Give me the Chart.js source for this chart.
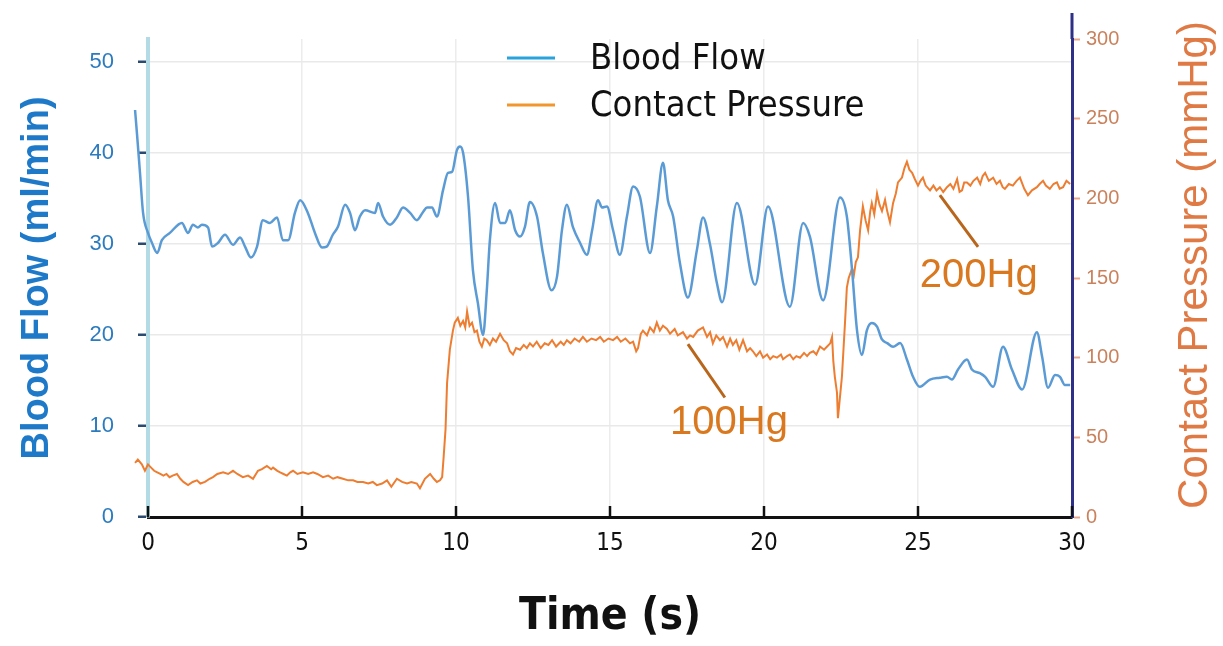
<!DOCTYPE html>
<html>
<head>
<meta charset="utf-8">
<script src="https://cdn.jsdelivr.net/npm/chart.js@4.4.1/dist/chart.umd.min.js"></script>
<style>
  html, body { margin: 0; padding: 0; background: #fff; }
</style>
</head>
<body>
<canvas id="chart" width="1223" height="646"></canvas>
<script>
// ── Data ─────────────────────────────────────────────────────────────────────
const flowTime = [-0.42,-0.36,-0.26,-0.16,0,0.13,0.3,0.45,0.71,1.1,1.3,1.46,1.62,1.75,1.95,2.08,2.27,2.5,2.76,2.99,
  3.15,3.34,3.54,3.73,3.96,4.19,4.38,4.55,4.77,4.94,5.19,5.42,5.65,5.8,6.0,6.17,6.4,6.56,6.72,6.88,
  7.05,7.37,7.47,7.63,7.86,8.08,8.28,8.51,8.73,8.93,9.06,9.22,9.38,9.58,9.74,9.87,10.03,10.13,10.23,10.39,
  10.55,10.71,10.88,11.0,11.1,11.27,11.43,11.6,11.75,11.92,12.08,12.24,12.4,12.63,12.82,13.1,13.28,13.44,13.6,13.8,
  14.03,14.25,14.42,14.61,14.74,14.9,15.1,15.32,15.55,15.75,15.97,16.3,16.52,16.72,16.88,17.05,17.27,17.53,17.82,18.02,
  18.25,18.47,18.64,19.12,19.71,20.13,20.84,21.27,21.49,21.92,22.47,22.69,22.86,23.02,23.18,23.34,23.5,23.67,23.83,24.0,
  24.19,24.42,24.64,24.84,25.06,25.39,25.71,25.94,26.1,26.3,26.59,26.75,27.01,27.18,27.44,27.76,28.05,28.38,28.86,29.03,
  29.22,29.45,29.61,29.77,29.94];
const flowValues = [44.7,42.2,37.8,33.4,31.2,30.1,29.0,30.4,31.2,32.3,31.2,32.1,31.8,32.1,31.8,29.7,30.1,31.0,29.9,30.7,
  29.7,28.5,29.7,32.6,32.3,32.9,30.4,30.4,33.4,34.8,33.4,31.2,29.6,29.7,31.0,31.9,34.3,33.4,31.5,33.0,
  33.7,33.4,34.5,33.0,32.1,32.9,34.0,33.4,32.6,33.5,34.0,34.0,33.0,35.9,37.8,37.9,40.3,40.7,40.0,35.2,
  27.1,23.5,20.0,24.9,30.4,34.5,32.3,32.3,33.7,31.5,30.8,31.9,34.6,33.0,29.0,24.9,26.4,31.5,34.3,31.8,
  30.1,28.8,31.5,34.8,34.0,34.1,31.5,28.8,33.0,36.3,35.2,29.0,34.1,38.9,34.8,33.0,27.9,24.1,29.3,32.9,
  29.9,25.7,23.6,34.5,25.5,34.1,23.1,32.3,30.8,23.8,35.1,33.0,27.1,20.5,17.8,20.5,21.3,20.9,19.5,19.1,
  18.7,19.1,17.3,15.4,14.3,15.1,15.3,15.4,15.1,16.2,17.3,16.2,15.8,15.4,14.3,18.7,16.2,14.0,20.3,17.6,
  14.2,15.6,15.4,14.5,14.5];

const pressTime = [-0.42,-0.33,-0.2,-0.1,0,0.1,0.2,0.3,0.4,0.5,0.6,0.7,0.8,0.94,1.05,1.15,1.3,1.45,1.59,1.7,
  1.85,2.0,2.11,2.25,2.44,2.6,2.76,2.9,3.08,3.25,3.41,3.57,3.7,3.86,4.0,4.06,4.2,4.29,4.4,4.51,
  4.62,4.71,4.85,5.03,5.2,5.36,5.5,5.68,5.85,6.01,6.15,6.33,6.5,6.66,6.8,6.98,7.15,7.3,7.43,7.6,
  7.76,7.9,8.08,8.25,8.41,8.55,8.73,8.83,8.99,9.16,9.28,9.38,9.48,9.55,9.6,9.66,9.71,9.8,9.9,9.96,
  10.06,10.14,10.23,10.3,10.36,10.44,10.52,10.6,10.68,10.76,10.84,10.92,11.0,11.1,11.2,11.3,11.43,11.55,11.66,11.75,
  11.85,11.95,12.08,12.2,12.3,12.4,12.5,12.62,12.75,12.88,13.0,13.12,13.25,13.4,13.5,13.6,13.72,13.85,14.0,14.12,
  14.25,14.4,14.55,14.68,14.8,14.95,15.1,15.23,15.35,15.5,15.65,15.75,15.85,15.91,16.0,16.07,16.2,16.3,16.42,16.52,
  16.62,16.72,16.85,16.95,17.1,17.2,17.37,17.5,17.6,17.7,17.85,18.02,18.15,18.25,18.34,18.45,18.57,18.67,18.8,18.9,
  18.99,19.1,19.2,19.32,19.45,19.55,19.64,19.75,19.87,19.97,20.1,20.2,20.3,20.42,20.55,20.62,20.75,20.84,20.95,21.05,
  21.17,21.3,21.4,21.49,21.6,21.7,21.82,21.95,22.05,22.15,22.21,22.25,22.3,22.37,22.4,22.45,22.53,22.58,22.63,22.69,
  22.75,22.86,22.92,22.98,23.05,23.12,23.21,23.3,23.38,23.45,23.5,23.58,23.67,23.75,23.83,23.93,24.0,24.09,24.19,24.28,
  24.35,24.48,24.56,24.64,24.72,24.81,24.9,25.0,25.08,25.16,25.25,25.39,25.5,25.6,25.71,25.82,25.94,26.05,26.15,26.27,
  26.35,26.43,26.5,26.59,26.7,26.8,26.92,27.02,27.1,27.18,27.3,27.44,27.55,27.66,27.75,27.82,27.95,28.08,28.2,28.31,
  28.45,28.57,28.7,28.86,28.95,29.06,29.15,29.28,29.4,29.51,29.6,29.71,29.82,29.94];
const pressValues = [34,36,33,29,33,31,29,28,27,26,27,25,26,27,24,22,20,22,23,21,
  22,24,25,27,28,27,29,27,25,26,24,29,30,32,30,31,29,28,27,26,
  28,29,27,28,27,28,27,25,26,24,25,24,23,23,22,22,21,22,20,21,
  23,19,24,22,21,22,21,18,24,27,24,22,23,25,38,55,84,105,117,122,
  125,120,123,119,129,120,122,116,117,110,107,112,111,108,112,110,115,111,109,104,
  102,106,105,108,106,109,107,110,106,109,108,111,107,110,108,111,109,112,110,113,
  110,112,111,113,110,112,111,113,110,112,109,110,104,106,115,117,114,119,116,122,
  117,120,118,115,118,114,116,112,114,113,117,119,113,116,109,114,111,113,107,112,
  108,111,105,111,104,106,104,101,104,100,102,99,101,100,102,99,101,102,99,101,
  100,103,101,103,104,102,107,105,107,109,113,98,88,78,62,72,88,105,122,144,
  150,156,152,160,163,180,195,186,180,192,197,190,203,196,192,199,192,185,197,203,
  210,213,219,223,218,216,212,208,211,213,208,205,208,205,207,204,207,209,206,212,
  204,205,210,210,208,211,213,209,214,216,211,213,209,211,207,206,209,208,211,213,
  206,202,205,207,209,211,208,206,209,210,206,207,211,209];

const timeTicks  = [0, 5, 10, 15, 20, 25, 30];
const flowTicks  = [0, 10, 20, 30, 40, 50];
const pressTicks = [0, 50, 100, 150, 200, 250, 300];

const seriesLabels = ['Blood Flow', 'Contact Pressure'];

// callouts: text, anchor in (time, pressure), leader line ends
const callouts = [
  { text: '100Hg', at: [16.95, 52],    from: [17.53, 108.5], to: [18.73, 75] },
  { text: '200Hg', at: [25.06, 144.5], from: [25.71, 202],   to: [26.95, 169.5] },
];

// ── Helpers ──────────────────────────────────────────────────────────────────
const NARROW = "'Liberation Sans Narrow', 'DejaVu Sans Condensed', sans-serif";
const SANS   = "'Liberation Sans', Arial, sans-serif";

function pairs(xs, ys) { return xs.map((x, i) => ({ x, y: ys[i] })); }

// ── Extra drawing: legend, inner x ticks, callouts, right title ──────────────
const decor = {
  id: 'decor',
  afterDraw(chart) {
    const { ctx, chartArea: ca, scales } = chart;
    const x = scales.x, yP = scales.yPress;
    ctx.save();

    // navy right axis line runs a bit above the plot
    ctx.strokeStyle = '#2e2f86';
    ctx.lineWidth = 3;
    ctx.beginPath();
    ctx.moveTo(ca.right, 13);
    ctx.lineTo(ca.right, ca.top);
    ctx.stroke();

    // x ticks point inward
    ctx.strokeStyle = '#111';
    ctx.lineWidth = 2.5;
    timeTicks.forEach(t => {
      const px = x.getPixelForValue(t);
      ctx.beginPath();
      ctx.moveTo(px, ca.bottom - 11);
      ctx.lineTo(px, ca.bottom);
      ctx.stroke();
    });

    // legend (stacked, top centre)
    const legCols = ['#2aa3dc', '#f1962d'];
    ctx.font = '36px ' + NARROW;
    ctx.textBaseline = 'middle';
    ctx.textAlign = 'left';
    seriesLabels.forEach((lbl, i) => {
      const ly = 58 + i * 47;
      ctx.strokeStyle = legCols[i];
      ctx.lineWidth = 3;
      ctx.beginPath();
      ctx.moveTo(507, ly);
      ctx.lineTo(555, ly);
      ctx.stroke();
      ctx.fillStyle = '#111';
      ctx.fillText(lbl, 590, ly + 2);
    });

    // callouts
    ctx.font = '40px ' + SANS;
    ctx.textBaseline = 'alphabetic';
    callouts.forEach(c => {
      ctx.strokeStyle = '#b8661c';
      ctx.lineWidth = 3;
      ctx.beginPath();
      ctx.moveTo(x.getPixelForValue(c.from[0]), yP.getPixelForValue(c.from[1]));
      ctx.lineTo(x.getPixelForValue(c.to[0]), yP.getPixelForValue(c.to[1]));
      ctx.stroke();
      ctx.fillStyle = '#d9781e';
      ctx.fillText(c.text, x.getPixelForValue(c.at[0]), yP.getPixelForValue(c.at[1]));
    });

    // right axis title reads bottom-to-top
    ctx.translate(1195, 265);
    ctx.rotate(-Math.PI / 2);
    ctx.font = '42px ' + SANS;
    ctx.textAlign = 'center';
    ctx.textBaseline = 'middle';
    ctx.fillStyle = '#e07a45';
    ctx.fillText('Contact Pressure (mmHg)', 0, 0);
    ctx.restore();
  }
};

// ── Chart ────────────────────────────────────────────────────────────────────
new Chart(document.getElementById('chart'), {
  type: 'line',
  data: {
    datasets: [
      {
        label: seriesLabels[0],
        data: pairs(flowTime, flowValues),
        yAxisID: 'yFlow',
        borderColor: '#5b9bd5',
        borderWidth: 2.5,
        pointRadius: 0,
        cubicInterpolationMode: 'monotone',
        clip: false,
      },
      {
        label: seriesLabels[1],
        data: pairs(pressTime, pressValues),
        yAxisID: 'yPress',
        borderColor: '#ed7d31',
        borderWidth: 2,
        pointRadius: 0,
        tension: 0,
        clip: false,
      },
    ],
  },
  options: {
    responsive: false,
    animation: false,
    devicePixelRatio: 1,
    layout: { padding: { top: 39, left: 0, right: 0, bottom: 0 } },
    plugins: { legend: { display: false }, tooltip: { enabled: false } },
    scales: {
      x: {
        type: 'linear',
        // range set here (not as min/max) so the few samples before t=0 still get drawn
        afterDataLimits: s => { s.min = 0; s.max = 30; },
        afterBuildTicks: s => { s.ticks = timeTicks.map(v => ({ value: v })); },
        afterFit: s => { s.height = 129; },
        grid: { color: '#ececec', lineWidth: 1.5, drawTicks: false },
        border: { color: '#111', width: 3 },
        ticks: { color: '#111', padding: 12, font: { family: NARROW, size: 24 } },
        title: {
          display: true, text: 'Time (s)', color: '#111',
          font: { family: NARROW, size: 44, weight: 'bold' },
          padding: { top: 0, bottom: 2 },
        },
      },
      yFlow: {
        type: 'linear', position: 'left', min: 0, max: 52.5,
        afterBuildTicks: s => { s.ticks = flowTicks.map(v => ({ value: v })); },
        afterFit: s => { s.width = 148; },
        grid: { color: '#e9e9e9', lineWidth: 1.5, tickLength: 10, tickColor: '#2a4a70', tickWidth: 2.5 },
        border: { color: '#b3dbe6', width: 4 },
        ticks: { color: '#2b7bbf', padding: 24, font: { family: SANS, size: 22 } },
        title: {
          display: true, text: 'Blood Flow (ml/min)', color: '#1e7ac8',
          font: { family: SANS, size: 38, weight: 'bold' },
          padding: { top: 15, bottom: 0 },
        },
      },
      yPress: {
        type: 'linear', position: 'right', min: 0, max: 300,
        afterBuildTicks: s => { s.ticks = pressTicks.map(v => ({ value: v })); },
        afterFit: s => { s.width = 151; },
        grid: { drawOnChartArea: false, tickLength: 8, tickColor: '#e9a58a', tickWidth: 2 },
        border: { color: '#2e2f86', width: 3 },
        ticks: { color: '#c9825c', padding: 6, font: { family: SANS, size: 20 } },
      },
    },
  },
  plugins: [decor],
});
</script>
</body>
</html>
